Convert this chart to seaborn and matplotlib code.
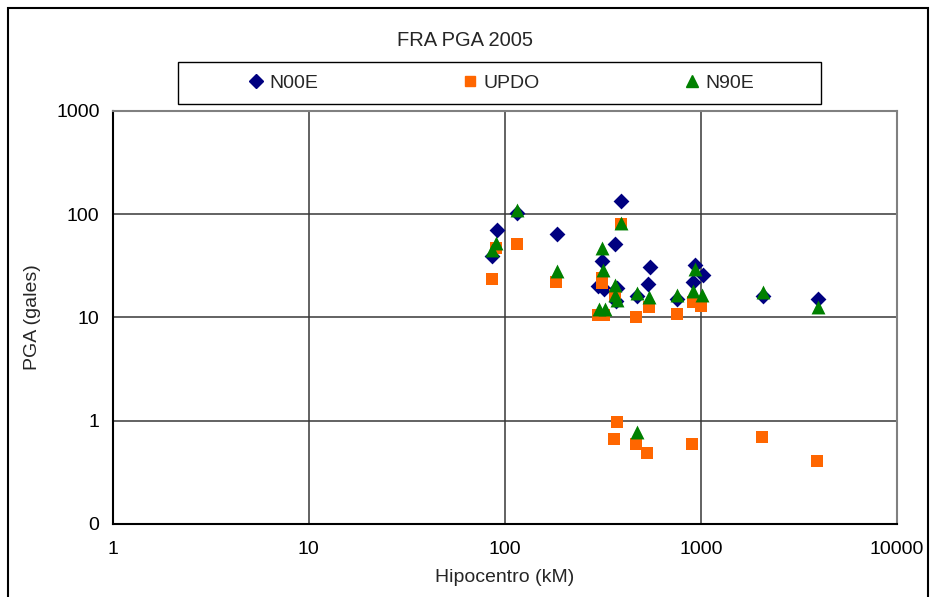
import matplotlib
matplotlib.use("Agg")
import matplotlib.pyplot as plt
import seaborn as sns
import pandas as pd
from matplotlib.patches import Rectangle
from matplotlib.lines import Line2D

sns.set_style("white")
plt.rcParams['font.family'] = ['Liberation Sans', 'DejaVu Sans']

title = "FRA PGA 2005"
x_label = "Hipocentro (kM)"
y_label = "PGA (gales)"
series_names = ["N00E", "UPDO", "N90E"]

n00e_x = [86, 91, 116, 184, 392, 365, 312, 300, 320, 373, 370, 551, 540, 471, 760, 935, 917, 1031, 2085, 3950]
n00e_y = [39, 70, 102, 64, 135, 52, 35, 20, 19, 19.5, 14.5, 31, 21, 16, 15, 32, 22, 26, 16, 15]

updo_x = [86, 90, 115, 183, 390, 312, 315, 365, 300, 320, 466, 542, 754, 917, 1005,
          373, 362, 467, 533, 900, 2055, 3908]
updo_y = [23.4, 47, 51, 22, 80, 24, 21.4, 16.5, 10.5, 10.5, 10.2, 12.7, 10.7, 14.2, 13,
          0.98, 0.66, 0.60, 0.49, 0.60, 0.69, 0.41]

n90e_x = [86, 90, 116, 184, 392, 312, 318, 365, 365, 373, 303, 325, 471, 542, 760, 935, 910, 1020, 2085, 3954, 471]
n90e_y = [45, 53, 111, 28, 83, 47, 29, 20.6, 16.5, 14.7, 12.2, 12.2, 17.1, 15.7, 16.5, 29.2, 18.1, 16.5, 17.7, 12.7, 0.77]

x_ticks = [1, 10, 100, 1000, 10000]
x_tick_labels = ["1", "10", "100", "1000", "10000"]
y_ticks = [0.1, 1, 10, 100, 1000]
y_tick_labels = ["0", "1", "10", "100", "1000"]

colors = {"N00E": "#000080", "UPDO": "#FF6600", "N90E": "#008000"}
markers = {"N00E": "D", "UPDO": "s", "N90E": "^"}
sizes = {"N00E": 65, "UPDO": 68, "N90E": 100}

df = pd.concat([
    pd.DataFrame({"x": n00e_x, "y": n00e_y, "serie": "N00E"}),
    pd.DataFrame({"x": updo_x, "y": updo_y, "serie": "UPDO"}),
    pd.DataFrame({"x": n90e_x, "y": n90e_y, "serie": "N90E"}),
], ignore_index=True)

fig = plt.figure(figsize=(9.3, 5.97), dpi=100)
ax = fig.add_axes([0.1212, 0.1223, 0.8431, 0.6918])

for name in series_names:
    sub = df[df["serie"] == name]
    sns.scatterplot(data=sub, x="x", y="y", ax=ax, marker=markers[name],
                    color=colors[name], s=sizes[name], linewidth=0, legend=False, zorder=3)

ax.set_xscale("log")
ax.set_yscale("log")
ax.set_xlim(1, 10000)
ax.set_ylim(0.1, 1000)
ax.set_xticks(x_ticks)
ax.set_xticklabels(x_tick_labels)
ax.set_yticks(y_ticks)
ax.set_yticklabels(y_tick_labels)
ax.minorticks_off()
ax.grid(True, which="major", color="#383838", linewidth=1.1)
ax.set_axisbelow(True)

for side in ["top", "right"]:
    ax.spines[side].set_color("#808080")
    ax.spines[side].set_linewidth(1.5)
for side in ["left", "bottom"]:
    ax.spines[side].set_color("black")
    ax.spines[side].set_linewidth(1.5)

ax.tick_params(axis="both", direction="inout", length=7, width=1, colors="black",
               labelsize=14, pad=6)
ax.tick_params(axis="x", pad=9)
ax.set_xlabel(x_label, fontsize=14, labelpad=8)
ax.set_ylabel(y_label, fontsize=14, labelpad=11)

fig.text(0.5, 1 - 40 / 597, title, ha="center", va="center", fontsize=14.5)

# legend box
fig.patches.append(Rectangle((178 / 930, 1 - 104 / 597), (821 - 178) / 930, 42 / 597,
                             transform=fig.transFigure, fill=False, edgecolor="black",
                             linewidth=1.0))
handles = [Line2D([], [], linestyle="none", marker=markers[n], color=colors[n],
                  markersize={"N00E": 7, "UPDO": 7, "N90E": 9}[n]) for n in series_names]
fig.legend(handles, series_names, loc="center", bbox_to_anchor=(500 / 930, 1 - 83 / 597),
           ncol=3, frameon=False, fontsize=14, handlelength=1.0, handletextpad=0.2,
           columnspacing=7.3)

# outer border
fig.patches.append(Rectangle((7.5 / 930, -0.01), (928 - 7.5) / 930, 1.01 - 8 / 597,
                             transform=fig.transFigure, fill=False, edgecolor="black",
                             linewidth=1.5))

fig.savefig("out.png", dpi=100)
